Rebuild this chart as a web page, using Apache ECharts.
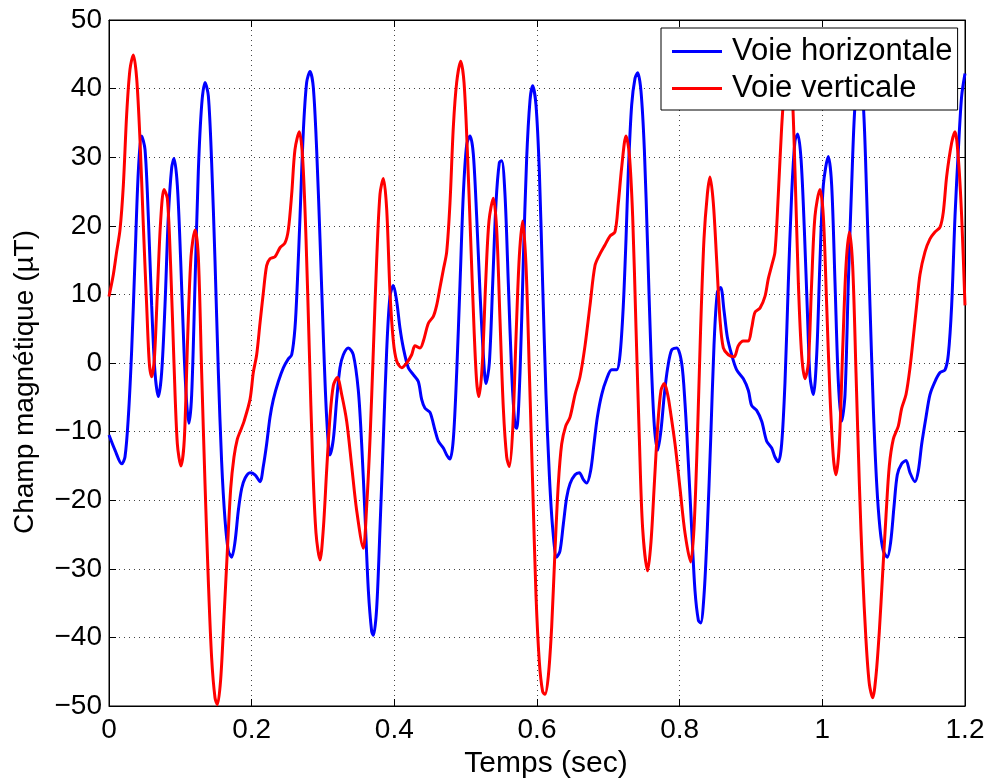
<!DOCTYPE html>
<html><head><meta charset="utf-8">
<script src="https://cdn.jsdelivr.net/npm/echarts@6/dist/echarts.min.js"></script>
<style>html,body{margin:0;padding:0;background:#fff}#c{width:989px;height:778px}</style>
</head><body><div id="c"></div>
<script>
// Voie horizontale : [temps (s), champ (µT)]
const horizontal = [
[0,-10.5],[0.0084,-12.7],[0.0178,-14.7],[0.0224,-13.7],[0.0271,-7.9],[0.0318,1.9],[0.0364,14.9],[0.0411,27.9],[0.0458,33.1],[0.0505,31.1],
[0.0551,21.4],[0.0598,8.4],[0.0645,-1.4],[0.0692,-4.9],[0.0738,-1.4],[0.0785,8.4],[0.0832,21.4],[0.0879,28.5],[0.0911,29.8],[0.0958,25.9],
[0.1005,14.9],[0.1051,1.9],[0.1089,-5.9],[0.1121,-8.8],[0.1159,-4.6],[0.1206,11.6],[0.1252,27.9],[0.1299,37.6],[0.1346,40.9],[0.1393,38.9],
[0.1439,29.2],[0.1486,14.9],[0.1533,-1.4],[0.1579,-14.4],[0.1626,-22.8],[0.1673,-27.4],[0.1720,-28.3],[0.1766,-26.1],[0.1813,-21.5],[0.1860,-18.3],
[0.1907,-16.8],[0.1977,-16],[0.2047,-16.3],[0.2117,-17.3],[0.2164,-15],[0.2210,-11.8],[0.2257,-7.9],[0.2304,-5.3],[0.2374,-2.7],[0.2444,-0.7],
[0.2514,0.6],[0.2561,1.2],[0.2607,5.1],[0.2640,11.6],[0.2678,21.4],[0.2724,33.7],[0.2771,40.9],[0.2818,42.5],[0.2864,40.2],[0.2911,31.1],
[0.2958,18.1],[0.3005,3.8],[0.3051,-7.9],[0.3098,-13.4],[0.3145,-11.1],[0.3192,-5.3],[0.3238,-0.7],[0.3285,1.2],[0.3355,2.2],[0.3425,1.2],
[0.3495,-4],[0.3542,-11.8],[0.3589,-22.2],[0.3636,-33.2],[0.3682,-39.1],[0.3706,-39.7],[0.3752,-35.8],[0.3799,-24.1],[0.3846,-11.1],[0.3893,1.9],
[0.3939,9.7],[0.3986,11.3],[0.4033,9],[0.4079,5.1],[0.4126,2.2],[0.4196,-0.7],[0.4266,-1.7],[0.4336,-2.7],[0.4383,-5.3],[0.4430,-6.6],
[0.4500,-7.2],[0.4570,-9.8],[0.4617,-11.4],[0.4687,-12.4],[0.4734,-13.4],[0.4780,-14],[0.4827,-11.1],[0.4874,-1.4],[0.4921,11.6],[0.4967,24.6],
[0.5014,31.8],[0.5061,33.1],[0.5107,30.5],[0.5154,21.4],[0.5201,10.3],[0.5248,1.2],[0.5285,-3],[0.5332,0],[0.5379,11.6],[0.5425,23.3],
[0.5472,29.2],[0.5505,29.5],[0.5551,24.6],[0.5598,11.6],[0.5645,-1.4],[0.5692,-9.2],[0.5715,-9.5],[0.5762,-1.4],[0.5808,14.9],[0.5855,29.8],
[0.5902,38.3],[0.5939,40.4],[0.5986,37.6],[0.6033,27.9],[0.6079,11.6],[0.6126,-4.6],[0.6173,-16.3],[0.6220,-24.1],[0.6276,-28.3],[0.6322,-27.4],
[0.6369,-23.5],[0.6416,-19.6],[0.6463,-17.6],[0.6533,-16.3],[0.6593,-16],[0.6650,-17],[0.6696,-17.5],[0.6752,-15.7],[0.6799,-11.8],[0.6846,-7.9],
[0.6907,-4.6],[0.6977,-2.3],[0.7047,-1],[0.7117,-1],[0.7164,1.2],[0.7210,8.4],[0.7248,18.1],[0.7280,27.9],[0.7327,37.6],[0.7374,41.5],
[0.7411,42.3],[0.7458,39.6],[0.7505,31.1],[0.7551,16.8],[0.7598,1.2],[0.7645,-9.2],[0.7692,-12.7],[0.7738,-9.8],[0.7785,-4.6],[0.7832,-0.7],
[0.7888,1.9],[0.7958,2.2],[0.8028,0],[0.8075,-5.9],[0.8121,-14.4],[0.8168,-24.1],[0.8215,-33.2],[0.8262,-37.5],[0.8294,-37.9],[0.8341,-33.9],
[0.8388,-24.1],[0.8435,-11.1],[0.8481,2.5],[0.8528,10.3],[0.8575,11],[0.8621,7.7],[0.8668,3.8],[0.8729,1.2],[0.8799,-1],[0.8893,-2.3],
[0.8963,-4],[0.9009,-6.2],[0.9079,-6.9],[0.9150,-8.5],[0.9220,-11.4],[0.9290,-12.4],[0.9336,-13.7],[0.9383,-14.4],[0.9430,-11.8],[0.9477,-2.7],
[0.9523,11.6],[0.9570,24.6],[0.9617,32.4],[0.9654,33.4],[0.9701,29.8],[0.9748,19.4],[0.9794,6.4],[0.9827,-2],[0.9874,-4.6],[0.9921,1.2],
[0.9967,14.9],[1.0014,25.9],[1.0084,30.1],[1.0131,25.9],[1.0178,11.6],[1.0224,-2.7],[1.0271,-8.5],[1.0318,-4.6],[1.0364,11.6],[1.0411,25.9],
[1.0458,37.6],[1.0519,42.5],[1.0575,37.6],[1.0621,24.6],[1.0668,8.4],[1.0715,-6.6],[1.0762,-17.6],[1.0808,-24.1],[1.0855,-27.4],[1.0911,-28.3],
[1.0958,-26.1],[1.1005,-20.9],[1.1051,-16.3],[1.1112,-14.7],[1.1173,-14.2],[1.1229,-16],[1.1299,-17.3],[1.1346,-15.7],[1.1393,-11.8],[1.1453,-7.9],
[1.1509,-4.6],[1.1579,-2.7],[1.1650,-1.4],[1.1720,-1],[1.1766,1.2],[1.1813,8.4],[1.1860,21.4],[1.1907,31.1],[1.1953,38.9],[1.2,42.2]
];
// Voie verticale : [temps (s), champ (µT)]
const vertical = [
[0,9.7],[0.0061,12.9],[0.0107,16.2],[0.0154,19.4],[0.0201,25.9],[0.0248,36.3],[0.0294,42.8],[0.0341,44.9],[0.0388,41.5],[0.0435,32.4],
[0.0481,20.1],[0.0528,8.4],[0.0565,0],[0.0598,-2],[0.0636,0.6],[0.0678,10.3],[0.0724,20.7],[0.0771,25.3],[0.0818,24],[0.0864,14.2],
[0.0911,0],[0.0958,-11.8],[0.1009,-15],[0.1056,-11.1],[0.1103,3.8],[0.1150,15.5],[0.1206,19.4],[0.1252,15.5],[0.1299,-1.4],[0.1346,-17.6],
[0.1393,-31.9],[0.1439,-43],[0.1486,-48.8],[0.1519,-49.8],[0.1565,-46.2],[0.1612,-37.1],[0.1659,-27.4],[0.1706,-18.3],[0.1752,-13.7],[0.1799,-11.1],
[0.1846,-9.8],[0.1893,-8.5],[0.1977,-5.3],[0.2023,-1.4],[0.2070,1.2],[0.2117,5.8],[0.2164,10.3],[0.2210,14.2],[0.2257,15.2],[0.2327,15.5],
[0.2397,16.8],[0.2467,17.5],[0.2514,19.4],[0.2561,24.6],[0.2607,31.1],[0.2668,33.7],[0.2715,29.8],[0.2762,18.1],[0.2808,1.9],[0.2855,-14.4],
[0.2902,-24.8],[0.2958,-28.7],[0.3005,-24.1],[0.3051,-15.7],[0.3098,-7.9],[0.3145,-3.3],[0.3201,-2.1],[0.3262,-4.6],[0.3332,-8.5],[0.3402,-15],
[0.3472,-21.5],[0.3565,-27],[0.3612,-20.9],[0.3659,-11.1],[0.3706,1.9],[0.3752,14.9],[0.3799,24.6],[0.3846,26.9],[0.3893,22.4],[0.3939,10.3],
[0.3986,3.2],[0.4033,0.3],[0.4103,-0.7],[0.4173,0],[0.4243,1.2],[0.4290,2.5],[0.4360,2.2],[0.4407,3.2],[0.4477,5.8],[0.4547,6.8],
[0.4593,8.4],[0.4640,11],[0.4687,13.6],[0.4734,16.2],[0.4780,23.3],[0.4827,34.4],[0.4874,40.9],[0.4930,44],[0.4977,40.9],[0.5023,31.1],
[0.5070,18.1],[0.5117,5.1],[0.5154,-2.7],[0.5187,-4.9],[0.5234,0],[0.5280,11.6],[0.5327,20.7],[0.5388,24],[0.5435,19.4],[0.5481,6.4],
[0.5528,-6.6],[0.5575,-13.7],[0.5612,-15.1],[0.5659,-9.8],[0.5706,3.8],[0.5752,15.5],[0.5799,20.7],[0.5846,14.2],[0.5893,-1.4],[0.5939,-17.6],
[0.5986,-33.9],[0.6033,-43.6],[0.6079,-47.9],[0.6112,-48.3],[0.6159,-45.6],[0.6206,-38.4],[0.6252,-27.4],[0.6299,-17.6],[0.6346,-11.8],[0.6402,-9.2],
[0.6463,-7.9],[0.6533,-4.6],[0.6603,-2],[0.6673,2.5],[0.6743,8.4],[0.6813,14.2],[0.6883,15.9],[0.6953,17.2],[0.7023,18.5],[0.7093,19.1],
[0.7140,23.3],[0.7187,28.5],[0.7248,33.1],[0.7294,30.5],[0.7341,21.4],[0.7388,5.1],[0.7435,-11.1],[0.7481,-24.1],[0.7551,-30.3],[0.7598,-26.1],
[0.7645,-17.6],[0.7692,-9.2],[0.7738,-4],[0.7785,-3],[0.7832,-4.6],[0.7864,-6.6],[0.7935,-11.8],[0.8005,-18.3],[0.8075,-24.8],[0.8154,-29],
[0.8201,-24.1],[0.8248,-11.1],[0.8294,5.1],[0.8341,18.1],[0.8388,24.6],[0.8425,27.1],[0.8472,23.3],[0.8519,14.9],[0.8565,6.4],[0.8612,2.2],
[0.8682,1.2],[0.8762,0.9],[0.8822,2.5],[0.8893,3.2],[0.8963,3.2],[0.9009,5.1],[0.9056,7.4],[0.9126,8],[0.9196,9.7],[0.9243,12.3],
[0.9290,14.2],[0.9336,16.2],[0.9383,24.6],[0.9430,34.4],[0.9477,40.9],[0.9523,43],[0.9570,40.9],[0.9617,27.9],[0.9664,11.6],[0.9710,1.2],
[0.9757,-2.3],[0.9804,0],[0.9850,11.6],[0.9897,21.4],[0.9967,25.3],[1.0014,21.4],[1.0061,8.4],[1.0107,-4.6],[1.0154,-13.7],[1.0192,-16.3],
[1.0238,-11.8],[1.0285,1.9],[1.0332,14.2],[1.0379,19.1],[1.0425,14.2],[1.0472,-1.4],[1.0519,-17.6],[1.0565,-30.6],[1.0612,-40.4],[1.0659,-46.8],
[1.0706,-48.8],[1.0752,-45.6],[1.0799,-39.1],[1.0846,-30.6],[1.0893,-22.2],[1.0939,-15],[1.0995,-11.1],[1.1065,-9.2],[1.1112,-6.6],[1.1173,-4.6],
[1.1229,-0.7],[1.1276,3.8],[1.1322,8.4],[1.1369,12.9],[1.1439,16.2],[1.1509,18.1],[1.1579,19.1],[1.1650,19.8],[1.1696,22],[1.1743,27.2],
[1.1813,32.1],[1.1860,33.7],[1.1907,29.8],[1.1953,21.4],[1.2,8.4]
];
const seriesNames = ['Voie horizontale', 'Voie verticale'];
const xLabel = 'Temps (sec)';
const yLabel = 'Champ magnétique (µT)';

const FONT = "'Liberation Sans', Arial, Helvetica, sans-serif";
const chart = echarts.init(document.getElementById('c'), null, {renderer: 'canvas'});
const fmtY = v => v < 0 ? '\u2212' + Math.abs(v) : String(v);
const fmtX = v => String(+v.toFixed(1));
const gridDots = {show: true, lineStyle: {color: '#444', width: 1, type: [1, 4]}};
const tickIn = {show: true, inside: true, length: 7, lineStyle: {color: '#000', width: 1}};
const axLine = {show: true, onZero: false, lineStyle: {color: '#000', width: 1}};
chart.setOption({
  animation: false,
  backgroundColor: '#fff',
  grid: {left: 109, right: 24, top: 20, bottom: 72, show: true, borderColor: '#000', borderWidth: 1,
         containLabel: false, outerBoundsMode: 'none'},
  legend: {
    data: seriesNames, orient: 'vertical', left: 661, top: 28, z: 20,
    backgroundColor: '#fff', borderColor: '#000', borderWidth: 1,
    padding: [8, 5, 6, 11], itemGap: 6, itemWidth: 50, itemHeight: 3, icon: 'rect',
    textStyle: {fontFamily: FONT, fontSize: 31, color: '#000', padding: [0, 0, 0, 5]}
  },
  xAxis: [
    {type: 'value', min: 0, max: 1.2, interval: 0.2, position: 'bottom',
     name: xLabel, nameLocation: 'middle', nameGap: 35,
     nameTextStyle: {fontFamily: FONT, fontSize: 30, color: '#000', padding: [0, 0, 0, 18]},
     axisLine: axLine, axisTick: tickIn,
     axisLabel: {fontFamily: FONT, fontSize: 28, color: '#000', margin: 10, formatter: fmtX},
     splitLine: gridDots},
    {type: 'value', min: 0, max: 1.2, interval: 0.2, position: 'top',
     axisLine: axLine, axisTick: tickIn,
     axisLabel: {show: false}, splitLine: {show: false}}
  ],
  yAxis: [
    {type: 'value', min: -50, max: 50, interval: 10, position: 'left',
     name: yLabel, nameLocation: 'middle', nameGap: 70, nameRotate: 90,
     nameTextStyle: {fontFamily: FONT, fontSize: 28, color: '#000', padding: [0, 38, 0, 0]},
     axisLine: axLine, axisTick: tickIn,
     axisLabel: {fontFamily: FONT, fontSize: 28, color: '#000', margin: 7, formatter: fmtY},
     splitLine: gridDots},
    {type: 'value', min: -50, max: 50, interval: 10, position: 'right',
     axisLine: axLine, axisTick: tickIn,
     axisLabel: {show: false}, splitLine: {show: false}}
  ],
  series: [
    {name: seriesNames[0], type: 'line', data: horizontal, showSymbol: false, smooth: 0.3,
     lineStyle: {color: '#0000ff', width: 3}, itemStyle: {color: '#0000ff'}, z: 2},
    {name: seriesNames[1], type: 'line', data: vertical, showSymbol: false, smooth: 0.3,
     lineStyle: {color: '#ff0000', width: 3}, itemStyle: {color: '#ff0000'}, z: 3}
  ]
});
</script>
</body></html>
